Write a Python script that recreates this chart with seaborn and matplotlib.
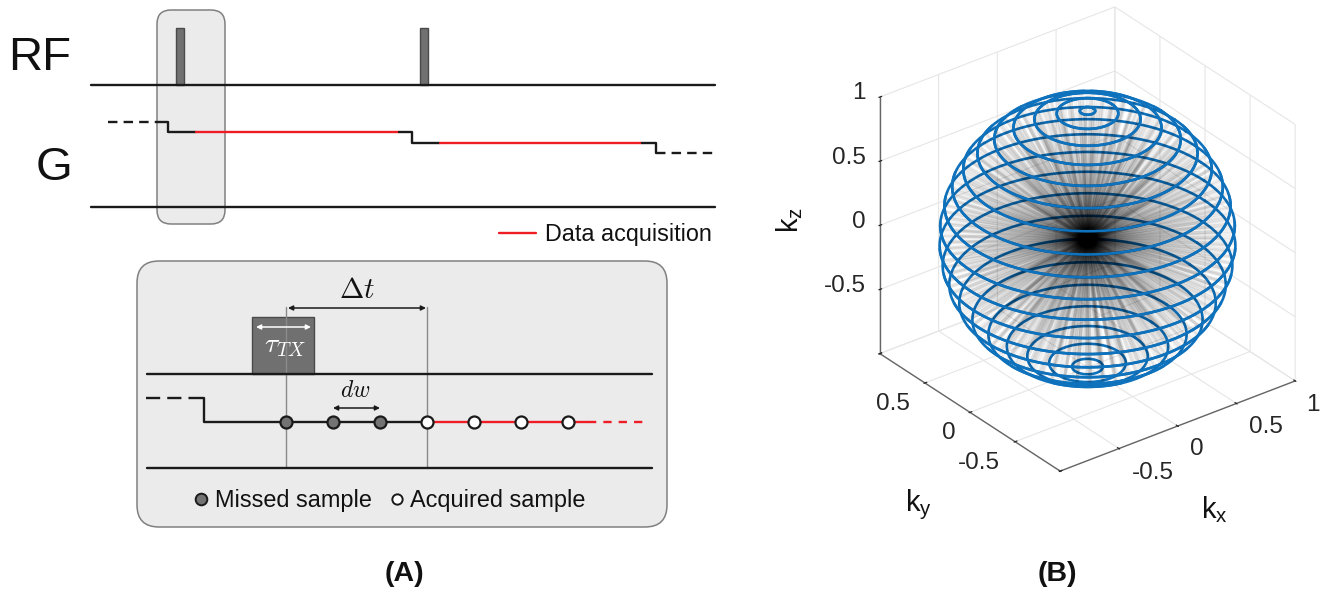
# --- Imports ---
import numpy as np
import seaborn as sns
import matplotlib
matplotlib.use('Agg')
import matplotlib.pyplot as plt
from matplotlib.patches import FancyBboxPatch, Rectangle
from mpl_toolkits.mplot3d.art3d import Line3DCollection

# --- Panel A: sequence diagram (image pixels) ---
RF_LINE = ([91, 715], [85, 85])
G_LINE = ([91, 715], [207, 207])
RF_PULSES = [(176, 28, 8, 57), (420, 28, 8, 57)]
G_DASH_IN = ([108, 160], [121.5, 121.5])
G_STEP_1 = ([160, 168, 168, 196], [121.5, 121.5, 132, 132])
G_RED_1 = ([196, 399], [132, 132])
G_STEP_2 = ([399, 412, 412, 440], [132, 132, 142.5, 142.5])
G_RED_2 = ([440, 642], [142.5, 142.5])
G_STEP_3 = ([642, 656, 656], [142.5, 142.5, 153])
G_DASH_OUT = ([656, 717], [153, 153])
LEGEND_RED = ([499, 536], [233, 233])

# inset
INSET_TOP = ([147, 652], [374, 374])
INSET_BOTTOM = ([147, 652], [468, 468])
INSET_DASH = ([146, 190], [398, 398])
INSET_STEP = ([190, 204, 204, 427], [398, 398, 422, 422])
INSET_RED = ([427, 588], [422, 422])
INSET_RED_DASH = ([588, 647], [422, 422])
MISSED_X = [286, 333, 380]
ACQUIRED_X = [427, 474, 521, 568]
SAMPLE_Y = 422

# --- Panel B: k-space sphere ---
RING_LATITUDES = [87, 78, 69, 60, 51, 42, 33, 24, 15, 6, -3, -12, -21, -30, -39, -48, -57, -66, -75, -84]
RING_SPOKES = [5, 16, 28, 38, 46, 54, 60, 66, 70, 72, 72, 70, 66, 60, 54, 46, 38, 28, 16, 7]
X_TICKS = [-1, -0.5, 0, 0.5, 1]
Y_TICKS = [-1, -0.5, 0, 0.5, 1]
Z_TICKS = [-1, -0.5, 0, 0.5, 1]
X_TICK_LABELS = ['-0.5', '0', '0.5', '1']
Y_TICK_LABELS = ['-0.5', '0', '0.5']
Z_TICK_LABELS = ['-0.5', '0', '0.5', '1']

W, H = 1331, 594
BLUE = '#0f72bd'
RED = '#ee1c25'
BLACK = '#1a1a1a'
PANEL = '#ebebeb'

sns.set_theme(style='white')
plt.rcParams['font.family'] = ['Liberation Sans', 'DejaVu Sans']
plt.rcParams['mathtext.fontset'] = 'cm'

fig = plt.figure(figsize=(W / 100, H / 100), dpi=100)

# --- Panel B ---
side = 432
cx, cy = 1087.5, 239
ax3d = fig.add_axes([(cx - 0.5135 * side) / W, (H - cy - 0.5135 * side) / H, side / W, side / H],
                    projection='3d', computed_zorder=False)
ax3d.set_proj_type('ortho')
ax3d.view_init(elev=30, azim=-127.5)
ax3d.set_box_aspect((1, 1, 1), zoom=1.153)
ax3d.patch.set_alpha(0)

theta = np.linspace(0, 2 * np.pi, 145)
view = np.array([-np.sin(np.radians(37.5)), -np.cos(np.radians(37.5))])
spokes = []
for i, (lat, n) in enumerate(zip(RING_LATITUDES, RING_SPOKES)):
    phi = np.radians(lat)
    xs, ys = np.cos(phi) * np.cos(theta), np.cos(phi) * np.sin(theta)
    zs = np.full_like(theta, np.sin(phi))
    ax3d.plot(xs, ys, zs, color=BLUE, lw=1.9, zorder=2)
    # front half goes over the grey spokes
    front = xs * view[0] + ys * view[1] > -np.sin(phi) * np.tan(np.radians(30))
    ax3d.plot(np.where(front, xs, np.nan), np.where(front, ys, np.nan), zs, color=BLUE, lw=1.9, zorder=4)
    for az in np.linspace(0, 2 * np.pi, n, endpoint=False) + i * 0.4:
        spokes.append([(0, 0, 0), (np.cos(phi) * np.cos(az), np.cos(phi) * np.sin(az), np.sin(phi))])
ax3d.add_collection3d(Line3DCollection(spokes, colors='black', linewidths=2.4, alpha=0.06, zorder=3))

ax3d.set_xlim(-1, 1)
ax3d.set_ylim(-1, 1)
ax3d.set_zlim(-1, 1)
ax3d.set_xticks(X_TICKS, [''] * len(X_TICKS))
ax3d.set_yticks(Y_TICKS, [''] * len(Y_TICKS))
ax3d.set_zticks(Z_TICKS, [''] * len(Z_TICKS))
for axis in (ax3d.xaxis, ax3d.yaxis, ax3d.zaxis):
    axis.set_pane_color((1, 1, 1, 0))
    axis.pane.set_edgecolor('#e4e4e4')
    axis.line.set_color('#666666')
    axis.line.set_linewidth(1.0)
    axis._axinfo['grid'].update(color='#e6e6e6', linewidth=0.8)
    axis._axinfo['tick'].update(color='#666666', linewidth={True: 0.9, False: 0.5},
                                inward_factor=0.05, outward_factor=0.1)

# --- Panel A canvas, in image pixels ---
canvas = fig.add_axes([0, 0, 1, 1])
canvas.set_facecolor('none')


def trace(points, color=BLACK, lw=1.7, ls='-', z=3):
    sns.lineplot(x=points[0], y=points[1], sort=False, estimator=None, errorbar=None,
                 color=color, linewidth=lw, linestyle=ls, ax=canvas, zorder=z)


def rounded(x, y, w, h, r):
    canvas.add_patch(FancyBboxPatch((x, y), w, h, boxstyle=f'round,pad=0,rounding_size={r}',
                                    fc=PANEL, ec='#808080', lw=1.1, zorder=1))


def arrow(x0, x1, y, color):
    canvas.annotate('', xy=(x1, y), xytext=(x0, y), zorder=6,
                    arrowprops=dict(arrowstyle='<|-|>', color=color, lw=1.1, mutation_scale=7,
                                    shrinkA=0, shrinkB=0))


rounded(157, 10, 68, 214, 14)
rounded(137, 261, 530, 266, 22)

trace(RF_LINE)
trace(G_LINE)
for x, y, w, h in RF_PULSES:
    canvas.add_patch(Rectangle((x, y), w, h, fc='#707070', ec='#4a4a4a', lw=1, zorder=2))
trace(G_DASH_IN, ls=(0, (4, 2.6)))
trace(G_STEP_1)
trace(G_RED_1, color=RED)
trace(G_STEP_2)
trace(G_RED_2, color=RED)
trace(G_STEP_3)
trace(G_DASH_OUT, ls=(0, (4, 2.6)))
trace(LEGEND_RED, color=RED)

# inset
canvas.add_patch(Rectangle((252, 317), 62, 57, fc='#707070', ec='#4a4a4a', lw=1, zorder=2))
trace(INSET_TOP)
trace(INSET_BOTTOM)
trace(([286, 286], [307, 468]), color='#8a8a8a', lw=1, z=2)
trace(([427, 427], [307, 468]), color='#8a8a8a', lw=1, z=2)
trace(INSET_DASH, ls=(0, (6, 3)))
trace(INSET_STEP)
trace(INSET_RED, color=RED)
trace(INSET_RED_DASH, color=RED, ls=(0, (3.5, 3)))
sns.scatterplot(x=MISSED_X, y=[SAMPLE_Y] * len(MISSED_X), s=75, color='#737373', edgecolor=BLACK,
                linewidth=1.6, ax=canvas, zorder=5, legend=False)
sns.scatterplot(x=ACQUIRED_X, y=[SAMPLE_Y] * len(ACQUIRED_X), s=75, color='white', edgecolor=BLACK,
                linewidth=1.6, ax=canvas, zorder=5, legend=False)
sns.scatterplot(x=[201], y=[499], s=70, color='#737373', edgecolor=BLACK, linewidth=1.4, ax=canvas, zorder=5, legend=False)
sns.scatterplot(x=[396.5], y=[499], s=55, color='white', edgecolor=BLACK, linewidth=1.4, ax=canvas, zorder=5, legend=False)

arrow(288, 426, 308, BLACK)
arrow(333, 380, 408, BLACK)
arrow(256, 311, 327, 'white')

canvas.set_xlim(0, W)
canvas.set_ylim(H, 0)
canvas.axis('off')

# --- Text ---
txt = dict(ha='center', va='center', color='#111111')
canvas.text(40, 58, 'RF', fontsize=34, **txt)
canvas.text(54, 168, 'G', fontsize=34, **txt)
canvas.text(545, 234, 'Data acquisition', fontsize=16.8, ha='left', va='center', color='#111111')
canvas.text(357, 290, r'$\Delta t$', fontsize=21, **txt)
canvas.text(355, 391, r'$dw$', fontsize=17, **txt)
canvas.text(285, 346, r'$\tau_{TX}$', fontsize=20, ha='center', va='center', color='white', zorder=6)
canvas.text(215, 501, 'Missed sample', fontsize=16.9, ha='left', va='center', color='#111111')
canvas.text(410, 501, 'Acquired sample', fontsize=16.9, ha='left', va='center', color='#111111')
canvas.text(404, 574, '(A)', fontsize=20.5, fontweight='bold', **txt)
canvas.text(1057, 574, '(B)', fontsize=20.5, fontweight='bold', **txt)
canvas.text(790, 220, r'$\mathregular{k_z}$', fontsize=21, rotation=90, **txt)
canvas.text(918, 505, r'$\mathregular{k_y}$', fontsize=21, **txt)
canvas.text(1214, 510, r'$\mathregular{k_x}$', fontsize=21, **txt)

# tick labels of panel B sit unevenly in the reference, so they go by hand
tick = dict(fontsize=17.5, color='#262626', va='center')
for label, (x, y) in zip(X_TICK_LABELS, [(1153, 473), (1197, 449), (1266, 427), (1313, 405)]):
    canvas.text(x, y, label, ha='center', **tick)
for label, (x, y) in zip(Y_TICK_LABELS, [(979, 463), (949, 433), (893, 404)]):
    canvas.text(x, y, label, ha='center', **tick)
for label, y in zip(Z_TICK_LABELS, [286, 222, 158, 93]):
    canvas.text(866, y, label, ha='right', **tick)

plt.savefig('out.png', dpi=100)
